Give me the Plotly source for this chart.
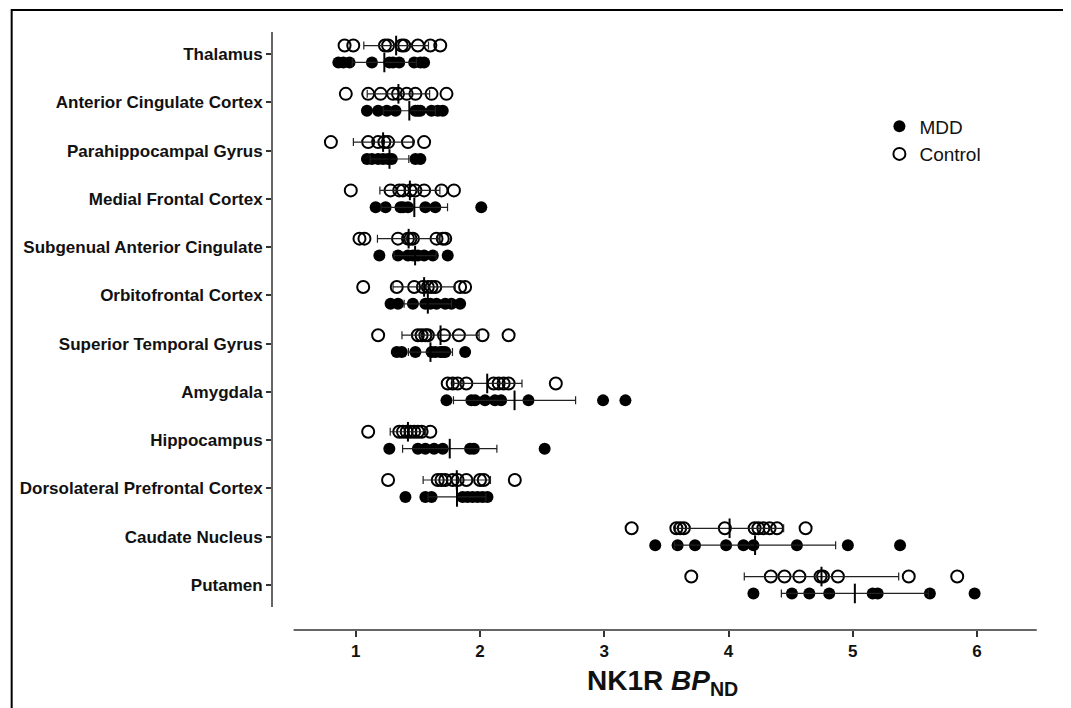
import numpy as np
import plotly.graph_objects as go

regions = ["Thalamus", "Anterior Cingulate Cortex", "Parahippocampal Gyrus",
           "Medial Frontal Cortex", "Subgenual Anterior Cingulate", "Orbitofrontal Cortex",
           "Superior Temporal Gyrus", "Amygdala", "Hippocampus",
           "Dorsolateral Prefrontal Cortex", "Caudate Nucleus", "Putamen"]

control_values = [
    [0.91, 0.98, 1.235, 1.26, 1.37, 1.39, 1.50, 1.60, 1.68],
    [0.92, 1.10, 1.20, 1.30, 1.34, 1.41, 1.48, 1.61, 1.73],
    [0.80, 1.10, 1.18, 1.23, 1.26, 1.42, 1.55],
    [0.96, 1.28, 1.35, 1.38, 1.44, 1.48, 1.55, 1.69, 1.79],
    [1.03, 1.07, 1.34, 1.42, 1.44, 1.46, 1.65, 1.70, 1.72],
    [1.06, 1.33, 1.47, 1.54, 1.58, 1.61, 1.64, 1.84, 1.88],
    [1.18, 1.50, 1.53, 1.56, 1.58, 1.71, 1.83, 2.02, 2.23],
    [1.74, 1.78, 1.82, 1.89, 2.11, 2.15, 2.19, 2.23, 2.61],
    [1.10, 1.35, 1.38, 1.41, 1.44, 1.47, 1.50, 1.53, 1.60],
    [1.26, 1.66, 1.69, 1.72, 1.78, 1.82, 1.89, 2.00, 2.03, 2.28],
    [3.22, 3.58, 3.61, 3.64, 3.97, 4.21, 4.24, 4.28, 4.33, 4.39, 4.62],
    [3.70, 4.34, 4.45, 4.57, 4.74, 4.76, 4.88, 5.45, 5.84],
]

mdd_values = [
    [0.86, 0.90, 0.95, 1.13, 1.27, 1.30, 1.35, 1.47, 1.52, 1.55],
    [1.09, 1.18, 1.25, 1.32, 1.48, 1.50, 1.52, 1.61, 1.66, 1.70],
    [1.09, 1.13, 1.18, 1.22, 1.26, 1.29, 1.48, 1.52],
    [1.16, 1.24, 1.36, 1.38, 1.42, 1.56, 1.64, 2.01],
    [1.19, 1.34, 1.42, 1.46, 1.50, 1.55, 1.62, 1.74],
    [1.28, 1.34, 1.46, 1.56, 1.60, 1.65, 1.72, 1.77, 1.84],
    [1.33, 1.37, 1.48, 1.61, 1.64, 1.68, 1.70, 1.72, 1.88],
    [1.73, 1.93, 1.96, 2.04, 2.12, 2.17, 2.39, 2.99, 3.17],
    [1.27, 1.50, 1.56, 1.63, 1.70, 1.92, 1.95, 2.52],
    [1.40, 1.56, 1.61, 1.86, 1.90, 1.94, 1.98, 2.02, 2.06],
    [3.41, 3.59, 3.73, 3.98, 4.12, 4.20, 4.55, 4.96, 5.38],
    [4.20, 4.51, 4.65, 4.81, 5.16, 5.20, 5.62, 5.98],
]

x_ticks = [1, 2, 3, 4, 5, 6]
x_title = "<b>NK1R <i>BP</i><sub>ND</sub></b>"

OFF = 0.175
FONT = "Liberation Sans, Arial, sans-serif"

def flat(groups, offset):
    xs, ys = [], []
    for i, g in enumerate(groups):
        xs += list(g)
        ys += [i + offset] * len(g)
    return xs, ys

fig = go.Figure()

mx, my = flat(mdd_values, OFF)
cx, cy = flat(control_values, -OFF)

fig.add_trace(go.Scatter(x=mx, y=my, mode="markers", name="MDD",
                         marker=dict(symbol="circle", size=12, color="black"),
                         legendrank=1))
fig.add_trace(go.Scatter(x=cx, y=cy, mode="markers", name="Control",
                         marker=dict(symbol="circle-open", size=12, color="black",
                                     line=dict(width=2, color="black")),
                         legendrank=2))

for groups, offset in [(control_values, -OFF), (mdd_values, OFF)]:
    means = [float(np.mean(g)) for g in groups]
    sds = [float(np.std(g, ddof=1)) for g in groups]
    fig.add_trace(go.Scatter(
        x=means, y=[i + offset for i in range(len(groups))], mode="markers",
        showlegend=False, hoverinfo="skip",
        marker=dict(symbol="line-ns", size=14, color="black",
                    line=dict(width=2, color="black")),
        error_x=dict(type="data", array=sds, visible=True, color="#222",
                     thickness=1.2, width=4)))

ytop, ybot = -0.456, 11.932
fig.update_layout(
    width=1071, height=708,
    margin=dict(l=262, r=42, t=24, b=86),
    paper_bgcolor="white", plot_bgcolor="white",
    xaxis=dict(range=[0.326, 6.482], tickvals=x_ticks, ticktext=[str(t) for t in x_ticks],
               ticks="outside", ticklen=6, tickwidth=1.5, tickcolor="#333",
               showline=False, showgrid=False, zeroline=False,
               tickfont=dict(family=FONT, size=17, color="#111", weight="bold")),
    yaxis=dict(range=[ybot, ytop], tickvals=list(range(len(regions))), ticktext=regions,
               ticks="outside", ticklen=5, tickwidth=1.5, tickcolor="#333",
               showline=False, showgrid=False, zeroline=False,
               tickfont=dict(family=FONT, size=17, color="#111", weight="bold")),
    legend=dict(x=0.794, y=0.874, xanchor="left", yanchor="top",
                font=dict(family=FONT, size=19, color="#111"),
                bgcolor="rgba(0,0,0,0)", itemwidth=30, tracegroupgap=0),
    showlegend=True,
    shapes=[
        dict(type="line", xref="paper", yref="y", x0=0, x1=0, y0=-0.456, y1=11.456,
             line=dict(color="#333", width=1.5)),
        dict(type="line", xref="x", yref="paper", x0=0.5, x1=6.48, y0=0, y1=0,
             line=dict(color="#333", width=1.5)),
        dict(type="rect", xref="paper", yref="paper", x0=-0.3403, x1=1.08,
             y0=-0.2, y1=1.0368, line=dict(color="black", width=2)),
    ],
    annotations=[
        dict(text=x_title, xref="x", yref="paper", x=3.47, y=-0.0886,
             showarrow=False, xanchor="center", yanchor="middle",
             font=dict(family=FONT, size=28, color="#111")),
    ],
)

fig.write_html("out.html")
